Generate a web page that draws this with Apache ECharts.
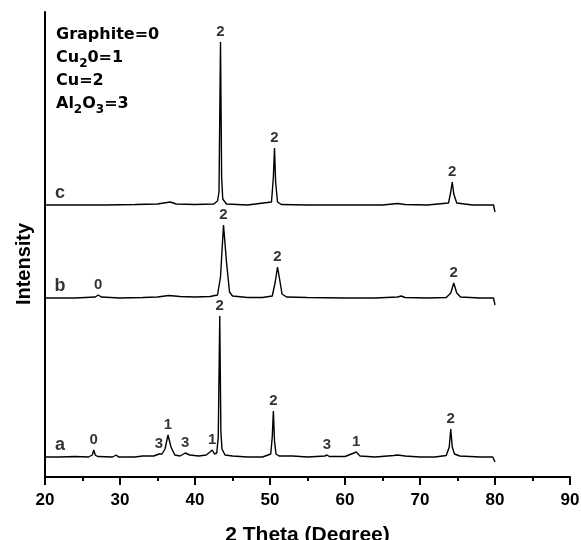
<!DOCTYPE html>
<html>
<head>
<meta charset="utf-8">
<script src="https://cdn.jsdelivr.net/npm/echarts@6/dist/echarts.min.js"></script>
<style>
html,body{margin:0;padding:0;background:#fff;}
#chart{width:581px;height:540px;}
</style>
</head>
<body>
<div id="chart"></div>
<script>
// 2θ (degree), intensity (arbitrary units, traces stacked with offset as in the figure)
var traceA = [[20,20],[22,20],[24,20.5],[25.8,20],[26.3,22],[26.5,27],[26.7,22],[27,20.5],[29,20],[29.5,22],[29.8,20],[32,20],[33,21],[34.5,21],[35.2,23],[35.6,23],[36.0,28],[36.4,42],[36.8,30],[37.3,22],[38.0,21],[38.7,24],[39.3,22],[40.5,21],[41.5,22],[42.0,25],[42.3,27],[42.6,23],[42.9,24],[43.1,40],[43.3,161],[43.45,45],[43.6,28],[44,22],[45,21],[47,20],[49,20],[50.1,23],[50.3,40],[50.45,66],[50.6,36],[50.8,23],[51.2,21],[53,21],[55,20],[57.3,21],[57.6,22],[57.9,20.5],[60,20.5],[61.2,24],[61.5,25],[62,21],[64,20],[66.5,21.5],[67,22],[68,21],[70,20],[72,20],[73.5,21.5],[73.9,30],[74.1,48],[74.3,30],[74.6,23],[75.3,21],[78,20],[79.7,20],[80,15]];
var traceB = [[20,179],[22,179],[24,179],[26.7,180],[27.1,182],[27.5,180],[30,179],[33,179.5],[35,180],[36.5,181.5],[38,180.5],[40,180],[42,180.5],[43.0,182],[43.4,200],[43.8,252],[44.2,215],[44.6,185],[45,181],[47,179.5],[49,179.5],[50.3,181],[50.7,195],[51.0,210],[51.3,197],[51.6,183],[52.2,180],[55,179.5],[60,179],[64,179],[67,180],[67.5,181],[68,179.5],[71,179],[73.5,179.5],[74.1,184],[74.5,194],[74.9,184],[75.4,180],[78,179],[79.8,179],[80,172]];
var traceC = [[20,272],[22,272],[24,272],[28,272],[32,272.5],[35,273],[36.7,275],[37.5,273],[40,272.5],[42.5,273],[43.0,276],[43.2,285],[43.4,435],[43.55,300],[43.7,278],[44.2,273],[47,272],[50.2,275],[50.45,300],[50.6,329],[50.75,295],[51,275],[51.5,272.5],[55,272],[60,272],[65,272],[67,273.5],[68,272.5],[71,272],[73.8,274],[74.1,285],[74.3,295],[74.5,283],[74.9,274],[77,272],[79.8,272],[80,265]];

// phase markers: [2θ, code]
var peaksA = [[26.5,'0'],[35.2,'3'],[36.4,'1'],[38.7,'3'],[42.3,'1'],[43.3,'2'],[50.45,'2'],[57.6,'3'],[61.5,'1'],[74.1,'2']];
var peaksB = [[27.1,'0'],[43.8,'2'],[51.0,'2'],[74.5,'2']];
var peaksC = [[43.4,'2'],[50.6,'2'],[74.3,'2']];

// sample names, placed at 2θ = 22 on each trace
var sampleNames = [['a', traceA], ['b', traceB], ['c', traceC]];
var nameAt = 22;

var xTicks = [20,30,40,50,60,70,80,90];

var FONT = 'Liberation Sans, Arial, sans-serif';
var LEGFONT = 'DejaVu Sans, Liberation Sans, sans-serif';

function yAt(trace, x){
  for (var i=0;i<trace.length;i++){ if (trace[i][0]===x) return trace[i][1]; }
  return null;
}
function markerData(trace, peaks){
  return peaks.map(function(p){ return {value:[p[0], yAt(trace,p[0])], name:p[1]}; });
}

var series = [];
[traceA, traceB, traceC].forEach(function(t){
  series.push({type:'line', data:t, showSymbol:false, symbol:'none', lineStyle:{color:'#000', width:1.4}, silent:true, z:3});
});
[[traceA,peaksA],[traceB,peaksB],[traceC,peaksC]].forEach(function(tp){
  series.push({type:'scatter', data:markerData(tp[0],tp[1]), symbolSize:0, silent:true,
    label:{show:true, position:'top', distance:3, formatter:function(p){return p.name;}, color:'#000', fontFamily:FONT, fontWeight:'bold', fontSize:15}, z:4});
});
series.push({type:'scatter', symbolSize:0, silent:true,
  data:sampleNames.map(function(s){ return {value:[nameAt, yAt(s[1], nameAt)], name:s[0]}; }),
  label:{show:true, position:'top', distance:3, formatter:function(p){return p.name;}, color:'#000', fontFamily:FONT, fontWeight:'bold', fontSize:18}, z:4});

var chart = echarts.init(document.getElementById('chart'), null, {renderer:'canvas'});
chart.setOption({
  animation:false,
  backgroundColor:'#fff',
  grid:{left:45, right:11, top:12, bottom:63, containLabel:false, outerBoundsMode:'none'},
  xAxis:{
    type:'value', min:xTicks[0], max:xTicks[xTicks.length-1], interval:10,
    name:'2 Theta (Degree)', nameLocation:'middle', nameGap:48,
    nameTextStyle:{fontFamily:FONT, fontWeight:'bold', fontSize:21, color:'#000'},
    axisLine:{lineStyle:{color:'#000', width:2}},
    axisTick:{show:true, length:8, lineStyle:{color:'#000', width:2}},
    minorTick:{show:true, splitNumber:2, length:4, lineStyle:{color:'#000', width:2}},
    axisLabel:{fontFamily:FONT, fontWeight:'bold', fontSize:17, color:'#000', margin:15},
    splitLine:{show:false}
  },
  yAxis:{
    type:'value', min:0, max:465,
    axisLine:{show:true, lineStyle:{color:'#000', width:2}},
    axisTick:{show:false}, axisLabel:{show:false}, splitLine:{show:false}
  },
  graphic:[{
    type:'text', x:24, y:264, rotation:Math.PI/2,
    style:{text:'Intensity', fontFamily:FONT, fontWeight:'bold', fontSize:20, fill:'#000', textAlign:'center', textVerticalAlign:'middle'}
  },{
    type:'text', left:56, top:23,
    style:{
      text:'Graphite=0\nCu{sub|2}0=1\nCu=2\nAl{sub|2}O{sub|3}=3',
      fontFamily:LEGFONT, fontWeight:'bold', fontSize:16, fill:'#000', lineHeight:23,
      rich:{sub:{fontFamily:LEGFONT, fontWeight:'bold', fontSize:12, fill:'#000', padding:[12,0,0,0], lineHeight:23}}
    }
  }],
  series:series
});
</script>
</body>
</html>
